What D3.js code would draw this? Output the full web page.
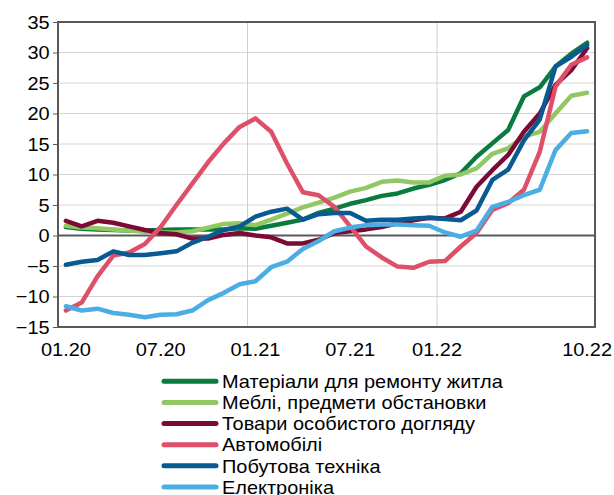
<!DOCTYPE html>
<html><head><meta charset="utf-8">
<script src="https://cdn.jsdelivr.net/npm/d3@7"></script>
<style>
html,body{margin:0;padding:0;background:#fff;}
text{font-family:"Liberation Sans",Arial,sans-serif;fill:#000;}
</style></head>
<body><svg id="c" width="614" height="495"></svg>
<script>
const months = ["01.20","02.20","03.20","04.20","05.20","06.20","07.20","08.20","09.20","10.20","11.20","12.20",
"01.21","02.21","03.21","04.21","05.21","06.21","07.21","08.21","09.21","10.21","11.21","12.21",
"01.22","02.22","03.22","04.22","05.22","06.22","07.22","08.22","09.22","10.22"];
const xTickLabels = ["01.20","07.20","01.21","07.21","01.22","10.22"];
const yTicks = [-15,-10,-5,0,5,10,15,20,25,30,35];
const vGridMonths = ["01.21","01.22"];

const seriesNames = ["Матеріали для ремонту житла","Меблі, предмети обстановки","Товари особистого догляду","Автомобілі","Побутова техніка","Електроніка"];
const materials = [1.4,1.1,1.0,0.9,0.8,0.8,0.9,1.0,1.0,1.0,1.0,1.2,1.1,1.6,2.1,2.6,3.7,4.4,5.2,5.8,6.5,6.9,7.7,8.3,9.1,10.2,12.9,15.1,17.3,22.8,24.3,27.7,29.8,31.6];
const furniture = [1.6,1.3,1.2,1.0,0.8,0.6,0.5,0.5,0.7,1.3,1.9,2.0,1.7,2.6,3.6,4.6,5.4,6.2,7.2,7.8,8.8,9.0,8.7,8.7,9.8,10.0,11.0,13.4,14.3,16.2,17.0,20.0,22.9,23.4];
const personal = [2.4,1.5,2.4,2.1,1.5,0.9,0.4,0.2,-0.5,-0.5,0.1,0.4,0.0,-0.3,-1.3,-1.3,-0.7,0.4,0.7,1.0,1.4,2.0,2.5,2.9,2.8,3.9,8.0,10.7,13.2,17.0,20.0,24.7,27.1,30.7];
const cars = [-12.3,-11.0,-6.7,-3.3,-2.8,-1.4,1.4,5.0,8.5,12.0,15.1,17.8,19.2,17.0,11.8,7.1,6.6,4.7,1.5,-1.8,-3.6,-5.1,-5.3,-4.3,-4.2,-1.8,0.4,4.2,5.3,7.5,13.7,24.4,28.0,29.2];
const appliances = [-4.8,-4.3,-4.0,-2.6,-3.2,-3.2,-2.9,-2.6,-1.2,-0.2,0.9,1.5,3.1,3.9,4.4,2.6,3.5,3.7,3.7,2.4,2.6,2.6,2.8,2.9,2.7,2.5,4.1,9.1,10.8,15.6,19.0,27.7,29.3,31.2];
const electronics = [-11.6,-12.3,-12.0,-12.7,-13.0,-13.4,-13.0,-12.9,-12.3,-10.6,-9.4,-8.0,-7.5,-5.2,-4.3,-2.2,-0.9,0.7,1.3,1.7,1.8,1.8,1.7,1.6,0.5,-0.2,0.8,4.7,5.5,6.6,7.5,14.0,16.8,17.1];
const seriesValues = [materials,furniture,personal,cars,appliances,electronics];
const colors = ["#0b7a3e","#92c863","#7c0a36","#de5069","#0a5a92","#4aaee3"];

const svg = d3.select("#c");
const L=58, R=595, T=22, B=327;
const FS = "19px", SX = "scale(1.05,1)";
const x = d3.scaleBand().domain(months).range([L,R]).paddingInner(0).paddingOuter(0);
const xc = m => x(m) + x.bandwidth()/2;
const y = d3.scaleLinear().domain([-15,35]).range([B,T]);

// horizontal gridlines
svg.append("g").selectAll("line").data(yTicks.filter(v=>v!==0 && v!==35 && v!==-15)).join("line")
  .attr("x1",L).attr("x2",R).attr("y1",d=>y(d)).attr("y2",d=>y(d))
  .attr("stroke","#d4d4d4").attr("stroke-width",1);
// vertical gridlines
svg.append("g").selectAll("line").data(vGridMonths).join("line")
  .attr("x1",d=>x(d)).attr("x2",d=>x(d)).attr("y1",T).attr("y2",B)
  .attr("stroke","#d0d0d0").attr("stroke-width",1);

// y axis ticks & labels
const yAxis = d3.axisLeft(y).tickValues(yTicks).tickSize(5).tickPadding(3);
const ya = svg.append("g").attr("transform",`translate(${L},0)`).call(yAxis);
ya.select(".domain").remove();
ya.selectAll(".tick line").attr("stroke","#595959");
ya.selectAll(".tick text").attr("font-size",FS).attr("font-family","Liberation Sans, Arial, sans-serif")
  .attr("fill","#000").attr("x",-8).attr("transform",SX);

// x labels
const xa = svg.append("g").attr("transform",`translate(0,${B})`)
  .call(d3.axisBottom(x).tickValues(xTickLabels).tickSize(0).tickPadding(16));
xa.select(".domain").remove();
xa.selectAll(".tick").attr("transform",d=> d==="01.22" ? `translate(${x(d)},0)` : `translate(${xc(d)},0)`);
xa.selectAll(".tick text").attr("font-size",FS).attr("font-family","Liberation Sans, Arial, sans-serif")
  .attr("fill","#000").attr("transform",SX);

// zero line
svg.append("line").attr("x1",L).attr("x2",R).attr("y1",y(0)).attr("y2",y(0)).attr("stroke","#595959").attr("stroke-width",2);

// series lines
const line = d3.line().x((d,i)=>xc(months[i])).y(d=>y(d));
svg.append("g").selectAll("path").data(seriesValues).join("path")
  .attr("d",d=>line(d)).attr("fill","none").attr("stroke",(d,i)=>colors[i])
  .attr("stroke-width",4.5).attr("stroke-linejoin","round").attr("stroke-linecap","round");

// frame
svg.append("rect").attr("x",L).attr("y",T).attr("width",R-L).attr("height",B-T)
  .attr("fill","none").attr("stroke","#595959").attr("stroke-width",2);

// legend
const lg = svg.append("g");
const ly = d3.scalePoint().domain(seriesNames).range([381.3,487]);
seriesNames.forEach((n,i)=>{
  lg.append("line").attr("x1",164).attr("x2",216).attr("y1",ly(n)).attr("y2",ly(n))
    .attr("stroke",colors[i]).attr("stroke-width",5).attr("stroke-linecap","round");
  lg.append("text").attr("transform",`translate(222,${ly(n)}) ${SX}`).attr("dy","0.35em")
    .attr("font-size",FS).text(n);
});
</script></body></html>
